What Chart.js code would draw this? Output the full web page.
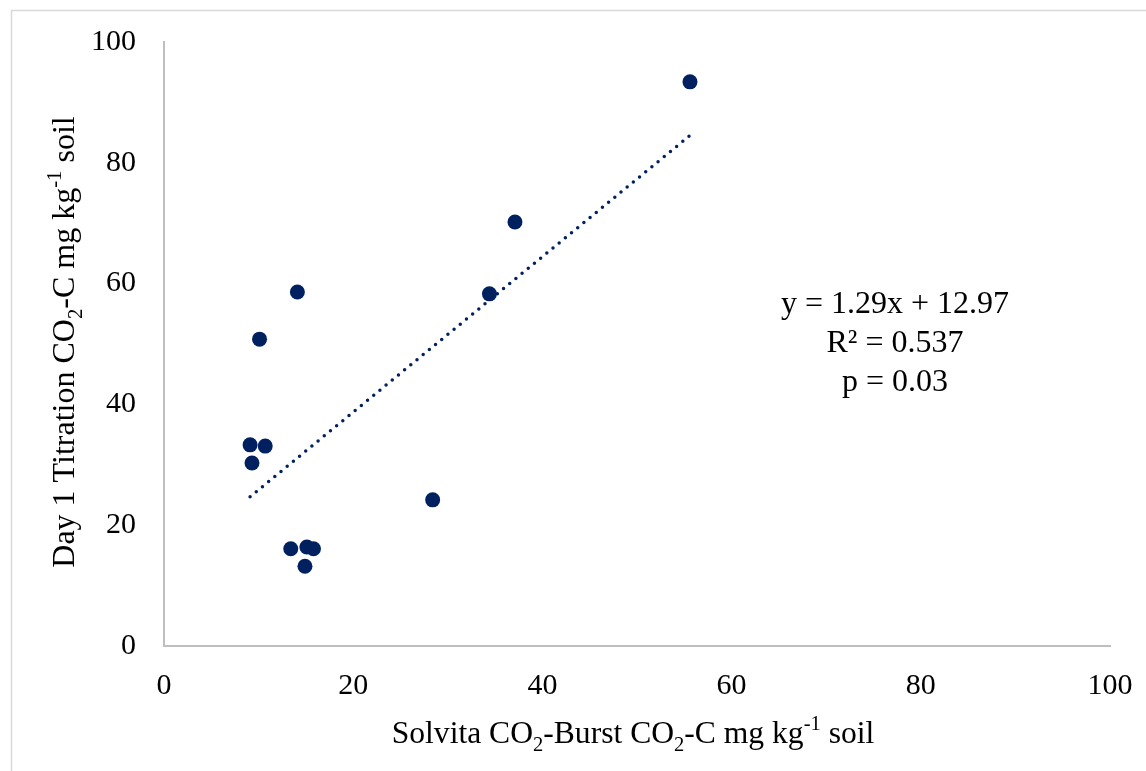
<!DOCTYPE html>
<html>
<head>
<meta charset="utf-8">
<script src="https://cdn.jsdelivr.net/npm/chart.js@4.4.0/dist/chart.umd.min.js"></script>
<style>
  html, body { margin: 0; padding: 0; background: #fff; }
  canvas { display: block; }
</style>
</head>
<body>
<canvas id="chart" width="1146" height="771"></canvas>
<script>
// values
const solvitaX = [55.6, 37.1, 34.4, 14.1, 10.1, 9.1, 10.7, 9.3, 28.4, 13.4, 15.1, 15.8, 14.9];
const titrationY = [93.4, 70.2, 58.3, 58.6, 50.8, 33.3, 33.1, 30.3, 24.2, 16.1, 16.4, 16.1, 13.2];
const trendX = [9.1, 55.5];
const trendY = [24.7, 84.4];
const xTicks = [0, 20, 40, 60, 80, 100];
const yTicks = [0, 20, 40, 60, 80, 100];
const fitLines = ["y = 1.29x + 12.97", "R\u00B2 = 0.537", "p = 0.03"];
const xTitle = [["Solvita CO", "n"], ["2", "sub"], ["-Burst CO", "n"], ["2", "sub"], ["-C mg kg", "n"], ["-1", "sup"], [" soil", "n"]];
const yTitle = [["Day 1 Titration CO", "n"], ["2", "sub"], ["-C mg kg", "n"], ["-1", "sup"], [" soil", "n"]];

const FONT = '"Liberation Serif", "Times New Roman", serif';
const NAVY = "#002060";
const AXIS = "#bfbfbf";

// draws text with sub/superscripts, centred on (0,0) baseline
function richText(ctx, parts, size) {
  const small = size * 0.65;
  let total = 0;
  const widths = parts.map(([t, k]) => {
    ctx.font = (k === "n" ? size : small) + "px " + FONT;
    const w = ctx.measureText(t).width;
    total += w;
    return w;
  });
  let x = -total / 2;
  parts.forEach(([t, k], i) => {
    ctx.font = (k === "n" ? size : small) + "px " + FONT;
    let dy = 0;
    if (k === "sub") dy = size * 0.25;
    if (k === "sup") dy = -size * 0.42;
    ctx.fillText(t, x, dy);
    x += widths[i];
  });
}

const extras = {
  id: "extras",
  beforeDraw(chart) {
    const ctx = chart.ctx;
    ctx.save();
    ctx.strokeStyle = "#d9d9d9";
    ctx.lineWidth = 1.5;
    ctx.beginPath();
    ctx.moveTo(11.5, 771);
    ctx.lineTo(11.5, 10.5);
    ctx.lineTo(1146, 10.5);
    ctx.stroke();
    ctx.restore();
  },
  afterDraw(chart) {
    const ctx = chart.ctx;
    ctx.save();
    ctx.fillStyle = "#000";
    ctx.textAlign = "left";
    ctx.textBaseline = "alphabetic";

    ctx.save();
    ctx.translate(633, 743);
    richText(ctx, xTitle, 31.6);
    ctx.restore();

    ctx.save();
    ctx.translate(74, 342);
    ctx.rotate(-Math.PI / 2);
    richText(ctx, yTitle, 32);
    ctx.restore();

    ctx.font = "32px " + FONT;
    ctx.textAlign = "center";
    fitLines.forEach((line, i) => {
      ctx.fillText(line, 895, 313 + i * 39);
    });
    ctx.restore();
  }
};

new Chart(document.getElementById("chart"), {
  type: "scatter",
  data: {
    datasets: [
      {
        label: "Samples",
        data: solvitaX.map((x, i) => ({ x: x, y: titrationY[i] })),
        backgroundColor: NAVY,
        borderColor: NAVY,
        borderWidth: 0,
        pointRadius: 7.5
      },
      {
        label: "Trend",
        type: "line",
        data: trendX.map((x, i) => ({ x: x, y: trendY[i] })),
        borderColor: NAVY,
        borderWidth: 3.5,
        borderDash: [0, 8],
        borderCapStyle: "round",
        pointRadius: 0,
        fill: false
      }
    ]
  },
  options: {
    responsive: false,
    animation: false,
    layout: { padding: { left: 0, top: 42, right: 36, bottom: 0 } },
    plugins: { legend: { display: false }, tooltip: { enabled: false } },
    scales: {
      x: {
        type: "linear",
        min: 0,
        max: 100,
        afterBuildTicks: s => { s.ticks = xTicks.map(v => ({ value: v })); },
        afterFit: s => { s.height = 125; s.paddingLeft = 0; s.paddingRight = 0; },
        grid: { display: false, drawTicks: false },
        border: { display: true, color: AXIS, width: 2 },
        ticks: { padding: 22, color: "#000", font: { family: FONT, size: 30 }, maxRotation: 0 }
      },
      y: {
        type: "linear",
        min: 0,
        max: 100,
        afterBuildTicks: s => { s.ticks = yTicks.map(v => ({ value: v })); },
        afterFit: s => { s.width = 164; s.paddingTop = 0; s.paddingBottom = 0; },
        grid: { display: false, drawTicks: false },
        border: { display: true, color: AXIS, width: 2 },
        ticks: { padding: 28, color: "#000", font: { family: FONT, size: 30 } }
      }
    }
  },
  plugins: [extras]
});
</script>
</body>
</html>
